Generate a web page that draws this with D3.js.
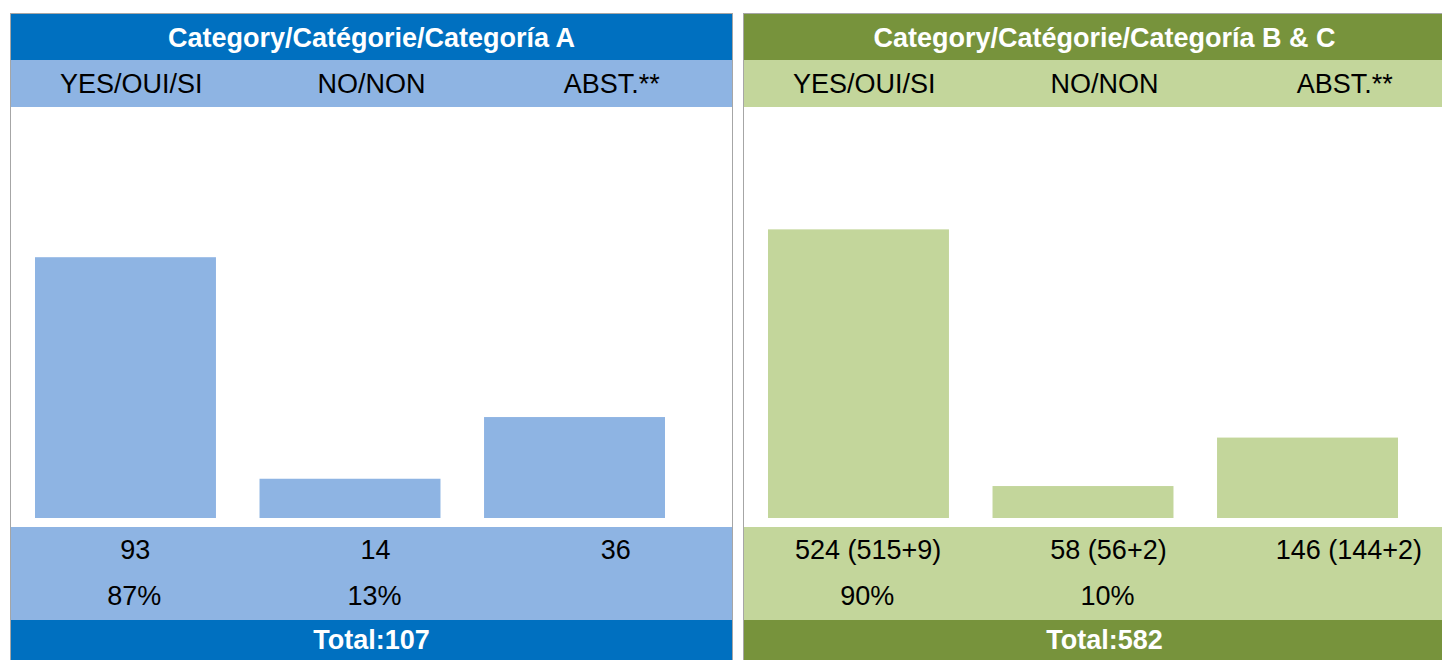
<!DOCTYPE html>
<html>
<head>
<meta charset="utf-8">
<script src="https://cdn.jsdelivr.net/npm/d3@7"></script>
<style>
  body { margin: 0; background: #fff; overflow: hidden; }
  svg { display: block; font-family: "Liberation Sans", Arial, sans-serif; }
</style>
</head>
<body>
<svg id="chart" width="1442" height="660"></svg>
<script>
categories = ['YES/OUI/SI', 'NO/NON', 'ABST.**']

titles = ['Category/Catégorie/Categoría A', 'Category/Catégorie/Categoría B & C']

valuesA = [93, 14, 36]
valuesBC = [524, 58, 146]

labelsA = ['93', '14', '36']
labelsBC = ['524 (515+9)', '58 (56+2)', '146 (144+2)']

percentA = ['87%', '13%', '']
percentBC = ['90%', '10%', '']

totals = [107, 582]

panels = [
  { title: titles[0], values: valuesA, labels: labelsA, pct: percentA, total: totals[0],
    dark: '#0070C0', light: '#8EB4E3', x: 10 },
  { title: titles[1], values: valuesBC, labels: labelsBC, pct: percentBC, total: totals[1],
    dark: '#77933C', light: '#C3D69B', x: 743 }
]

svg = d3.select('#chart')

panelWidth = 723
top0 = 13

panels.forEach(function(p) {
  g = svg.append('g').attr('transform', 'translate(' + p.x + ',' + top0 + ')')

  // columns for the text rows
  cols = d3.scaleBand()
           .domain(categories)
           .range([1, panelWidth - 1])

  // bars sit in their own band, a bit left of the text columns
  bars = d3.scaleBand()
           .domain(categories)
           .range([25, 655])
           .paddingInner(0.194)

  y = d3.scaleLinear()
        .domain([0, d3.sum(p.values)])
        .range([505, 104])

  function mid(i, shift) {
    return cols(categories[i]) + cols.bandwidth() / 2 + (shift || 0)
  }

  // outer frame
  g.append('rect')
   .attr('x', 0.5).attr('y', 0.5)
   .attr('width', panelWidth - 1).attr('height', 700)
   .attr('fill', '#fff')
   .attr('stroke', '#a6a6a6')

  // header
  g.append('rect').attr('x', 1).attr('y', 1).attr('width', panelWidth - 2).attr('height', 46).attr('fill', p.dark)
  g.append('text')
   .attr('x', panelWidth / 2).attr('y', 34)
   .attr('text-anchor', 'middle')
   .attr('fill', '#fff')
   .style('font-size', '27px').style('font-weight', 'bold')
   .text(p.title)

  // category row
  g.append('rect').attr('x', 1).attr('y', 47).attr('width', panelWidth - 2).attr('height', 47).attr('fill', p.light)
  g.selectAll('text.cat')
   .data(categories)
   .enter()
   .append('text')
   .attr('class', 'cat')
   .attr('x', function(d, i) { return mid(i) })
   .attr('y', 80)
   .attr('text-anchor', 'middle')
   .attr('fill', '#000')
   .style('font-size', '27px')
   .text(function(d) { return d })

  // bars
  g.selectAll('rect.bar')
   .data(p.values)
   .enter()
   .append('rect')
   .attr('class', 'bar')
   .attr('x', function(d, i) { return bars(categories[i]) })
   .attr('y', function(d) { return y(d) })
   .attr('width', bars.bandwidth())
   .attr('height', function(d) { return y(0) - y(d) })
   .attr('fill', p.light)

  // values + percentages
  g.append('rect').attr('x', 1).attr('y', 514).attr('width', panelWidth - 2).attr('height', 93).attr('fill', p.light)
  g.selectAll('text.val')
   .data(p.labels)
   .enter()
   .append('text')
   .attr('class', 'val')
   .attr('x', function(d, i) { return mid(i, 4) })
   .attr('y', 546)
   .attr('text-anchor', 'middle')
   .style('font-size', '27px')
   .text(function(d) { return d })
  g.selectAll('text.pct')
   .data(p.pct)
   .enter()
   .append('text')
   .attr('class', 'pct')
   .attr('x', function(d, i) { return mid(i, 3) })
   .attr('y', 592)
   .attr('text-anchor', 'middle')
   .style('font-size', '27px')
   .text(function(d) { return d })

  // total
  g.append('rect').attr('x', 1).attr('y', 607).attr('width', panelWidth - 2).attr('height', 60).attr('fill', p.dark)
  g.append('text')
   .attr('x', panelWidth / 2).attr('y', 636)
   .attr('text-anchor', 'middle')
   .attr('fill', '#fff')
   .style('font-size', '27px').style('font-weight', 'bold')
   .text('Total:' + p.total)
})
</script>
</body>
</html>
